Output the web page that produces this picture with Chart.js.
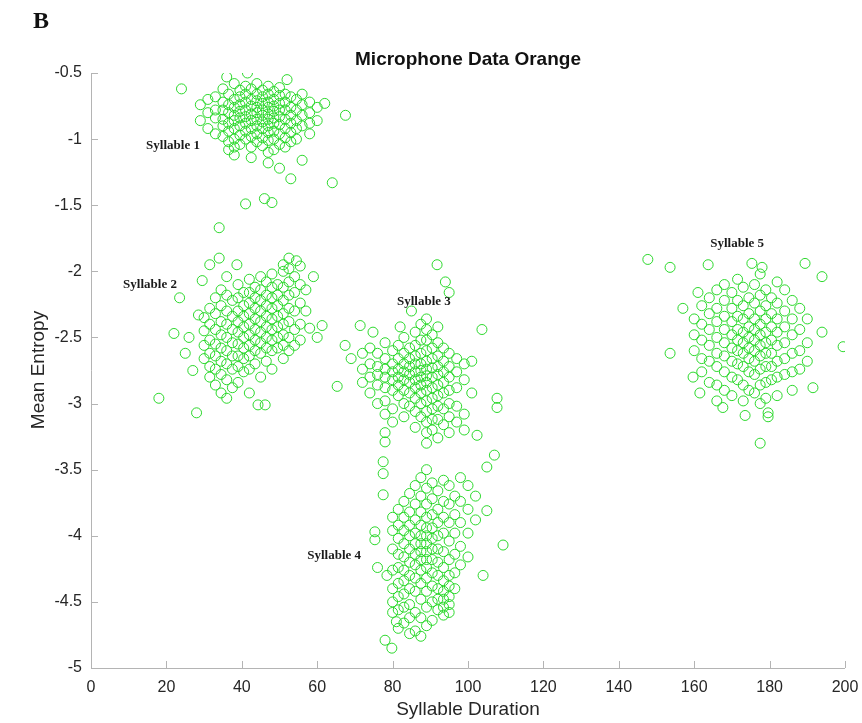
<!DOCTYPE html>
<html>
<head>
<meta charset="utf-8">
<script src="https://cdn.jsdelivr.net/npm/chart.js@4.4.1/dist/chart.umd.min.js"></script>
<style>
  html, body { margin: 0; padding: 0; background: #ffffff; }
  #wrap { width: 862px; height: 723px; position: relative; }
</style>
</head>
<body>
<div id="wrap"><canvas id="chart" width="862" height="723"></canvas></div>
<script>
// Each syllable: columns of [duration, [mean entropy values...]]
const syllable1 = [
  [24, [-0.62]],
  [29, [-0.74, -0.86]],
  [31, [-0.70, -0.80, -0.92]],
  [33, [-0.68, -0.78, -0.84, -0.96]],
  [35, [-0.62, -0.72, -0.78, -0.85, -0.90, -0.98]],
  [36, [-0.53]],
  [36.5, [-0.66, -0.74, -0.80, -0.88, -0.94, -1.02, -1.08]],
  [38, [-0.58, -0.70, -0.76, -0.82, -0.86, -0.92, -1.00, -1.06, -1.12]],
  [39.5, [-0.63, -0.68, -0.74, -0.79, -0.84, -0.90, -0.97, -1.04]],
  [41, [-0.60, -0.66, -0.72, -0.78, -0.83, -0.88, -0.94, -1.00, -1.49]],
  [41.5, [-0.50]],
  [42.5, [-0.62, -0.70, -0.75, -0.81, -0.86, -0.92, -0.98, -1.06, -1.14]],
  [44, [-0.58, -0.66, -0.71, -0.76, -0.80, -0.85, -0.90, -0.96, -1.02]],
  [45.5, [-0.63, -0.68, -0.73, -0.78, -0.82, -0.87, -0.92, -0.99, -1.05]],
  [46, [-1.45]],
  [47, [-0.60, -0.66, -0.72, -0.76, -0.81, -0.85, -0.90, -0.95, -1.01, -1.10, -1.18]],
  [48, [-1.48]],
  [48.5, [-0.64, -0.70, -0.75, -0.79, -0.84, -0.88, -0.94, -1.00, -1.08]],
  [50, [-0.61, -0.67, -0.73, -0.78, -0.83, -0.89, -0.96, -1.04, -1.22]],
  [51.5, [-0.66, -0.72, -0.78, -0.85, -0.92, -0.99, -1.06]],
  [52, [-0.55]],
  [53, [-0.68, -0.76, -0.82, -0.88, -0.95, -1.02, -1.30]],
  [54.5, [-0.70, -0.78, -0.86, -0.92, -1.00]],
  [56, [-0.66, -0.74, -0.82, -0.90, -1.16]],
  [58, [-0.72, -0.80, -0.88, -0.96]],
  [60, [-0.76, -0.86]],
  [62, [-0.73]],
  [64, [-1.33]],
  [67.5, [-0.82]]
];

const syllable2 = [
  [18, [-2.96]],
  [22, [-2.47]],
  [23.5, [-2.20]],
  [25, [-2.62]],
  [26, [-2.50]],
  [27, [-2.75]],
  [28, [-3.07]],
  [28.5, [-2.33]],
  [29.5, [-2.07]],
  [30, [-2.35, -2.45, -2.56, -2.66]],
  [31.5, [-1.95, -2.28, -2.40, -2.52, -2.62, -2.72, -2.80]],
  [33, [-2.20, -2.32, -2.44, -2.55, -2.64, -2.74, -2.86]],
  [34, [-1.67, -1.90]],
  [34.5, [-2.14, -2.26, -2.38, -2.48, -2.58, -2.68, -2.78, -2.92]],
  [36, [-2.04, -2.18, -2.30, -2.40, -2.50, -2.60, -2.70, -2.82, -2.96]],
  [37.5, [-2.22, -2.34, -2.44, -2.54, -2.64, -2.74, -2.88]],
  [38.7, [-1.95]],
  [39, [-2.10, -2.20, -2.30, -2.38, -2.46, -2.55, -2.64, -2.72, -2.84]],
  [40.5, [-2.16, -2.26, -2.34, -2.42, -2.50, -2.58, -2.66, -2.76]],
  [42, [-2.06, -2.16, -2.24, -2.32, -2.40, -2.48, -2.56, -2.64, -2.74, -2.92]],
  [43.5, [-2.12, -2.20, -2.28, -2.36, -2.44, -2.52, -2.60, -2.70]],
  [44.3, [-3.01]],
  [45, [-2.04, -2.14, -2.22, -2.30, -2.38, -2.46, -2.54, -2.62, -2.80]],
  [46.2, [-3.01]],
  [46.5, [-2.08, -2.18, -2.26, -2.34, -2.42, -2.50, -2.58, -2.68]],
  [48, [-2.02, -2.12, -2.20, -2.28, -2.36, -2.44, -2.52, -2.60, -2.74]],
  [49.5, [-2.10, -2.18, -2.26, -2.34, -2.42, -2.50, -2.58]],
  [51, [-1.95, -2.00, -2.12, -2.22, -2.32, -2.40, -2.48, -2.56, -2.66]],
  [52.5, [-1.90, -1.98, -2.08, -2.18, -2.28, -2.38, -2.50, -2.60]],
  [54, [-2.04, -2.16, -2.30, -2.44, -2.56]],
  [54.5, [-1.92]],
  [55.5, [-1.96, -2.10, -2.24, -2.40, -2.52]],
  [57, [-2.14, -2.30]],
  [58, [-2.43]],
  [59, [-2.04]],
  [60, [-2.50]],
  [61.3, [-2.41]]
];

const syllable3 = [
  [65.3, [-2.87]],
  [67.4, [-2.56]],
  [69, [-2.66]],
  [71.4, [-2.41]],
  [72, [-2.62, -2.74, -2.84]],
  [74, [-2.58, -2.70, -2.80, -2.92]],
  [74.8, [-2.46]],
  [76, [-2.62, -2.72, -2.78, -2.86, -3.00]],
  [78, [-2.54, -2.66, -2.74, -2.80, -2.88, -2.98, -3.08, -3.22, -3.29]],
  [80, [-2.60, -2.70, -2.76, -2.82, -2.90, -3.04, -3.14]],
  [81.5, [-2.56, -2.66, -2.74, -2.80, -2.86, -2.94]],
  [82, [-2.42]],
  [83, [-2.50, -2.62, -2.70, -2.76, -2.82, -2.90, -3.00, -3.10]],
  [84.5, [-2.58, -2.66, -2.72, -2.78, -2.84, -2.92, -3.02]],
  [85, [-2.30]],
  [86, [-2.46, -2.56, -2.64, -2.70, -2.76, -2.82, -2.88, -2.96, -3.06, -3.18]],
  [87.5, [-2.40, -2.52, -2.62, -2.70, -2.75, -2.80, -2.86, -2.92, -3.00, -3.10]],
  [89, [-2.36, -2.44, -2.52, -2.60, -2.68, -2.74, -2.79, -2.84, -2.90, -2.98, -3.06, -3.14, -3.22, -3.30]],
  [90.5, [-2.48, -2.58, -2.66, -2.73, -2.80, -2.88, -2.96, -3.04, -3.12, -3.20]],
  [91.8, [-1.95]],
  [92, [-2.42, -2.54, -2.64, -2.72, -2.78, -2.86, -2.94, -3.02, -3.12, -3.26]],
  [93.5, [-2.58, -2.68, -2.76, -2.84, -2.92, -3.04, -3.16]],
  [94, [-2.08]],
  [95, [-2.16, -2.62, -2.72, -2.80, -2.90, -3.00, -3.10, -3.22]],
  [97, [-2.66, -2.76, -2.88, -3.02, -3.14]],
  [99, [-2.70, -2.82, -3.08, -3.20]],
  [101, [-2.68, -2.92]],
  [102.4, [-3.24]],
  [103.7, [-2.44]],
  [107, [-3.39]],
  [107.7, [-2.96, -3.03]]
];

const syllable4 = [
  [75.3, [-3.97, -4.03]],
  [76, [-4.24]],
  [77.5, [-3.44, -3.53, -3.69]],
  [78, [-4.79]],
  [78.5, [-4.30]],
  [79.8, [-4.85]],
  [80, [-3.86, -3.96, -4.10, -4.26, -4.40, -4.50, -4.58]],
  [81, [-4.65]],
  [81.5, [-3.80, -3.92, -4.02, -4.14, -4.24, -4.36, -4.46, -4.56, -4.70]],
  [83, [-3.74, -3.86, -3.96, -4.06, -4.16, -4.26, -4.34, -4.44, -4.54, -4.66]],
  [84.5, [-3.68, -3.82, -3.92, -4.00, -4.10, -4.20, -4.30, -4.40, -4.52, -4.62, -4.74]],
  [86, [-3.62, -3.76, -3.88, -3.98, -4.06, -4.14, -4.22, -4.32, -4.42, -4.58, -4.72]],
  [87.5, [-3.56, -3.70, -3.82, -3.92, -4.00, -4.06, -4.12, -4.18, -4.26, -4.36, -4.48, -4.62, -4.76]],
  [89, [-3.50, -3.64, -3.76, -3.86, -3.94, -4.00, -4.06, -4.12, -4.18, -4.24, -4.32, -4.42, -4.54, -4.68]],
  [90.5, [-3.60, -3.72, -3.84, -3.94, -4.02, -4.10, -4.18, -4.28, -4.38, -4.50, -4.64]],
  [92, [-3.66, -3.80, -3.90, -4.00, -4.10, -4.20, -4.30, -4.40, -4.48, -4.56]],
  [93.5, [-3.58, -3.74, -3.86, -3.98, -4.12, -4.24, -4.34, -4.42, -4.48, -4.54, -4.60]],
  [95, [-3.62, -3.76, -3.90, -4.04, -4.18, -4.30, -4.38, -4.46, -4.52, -4.58]],
  [96.5, [-3.70, -3.84, -3.98, -4.14, -4.28, -4.40]],
  [98, [-3.56, -3.74, -3.90, -4.08, -4.22]],
  [100, [-3.62, -3.80, -3.98, -4.16]],
  [102, [-3.70, -3.88]],
  [104, [-4.30]],
  [105, [-3.48, -3.81]],
  [109.3, [-4.07]]
];

const syllable5 = [
  [147.7, [-1.91]],
  [153.6, [-1.97, -2.62]],
  [157, [-2.28]],
  [159.7, [-2.80]],
  [160, [-2.36, -2.48, -2.60]],
  [161, [-2.16]],
  [161.5, [-2.92]],
  [162, [-2.26, -2.40, -2.52, -2.66, -2.76]],
  [163.7, [-1.95]],
  [164, [-2.20, -2.32, -2.44, -2.56, -2.68, -2.84]],
  [166, [-2.14, -2.28, -2.38, -2.50, -2.62, -2.72, -2.86, -2.98]],
  [167.6, [-3.03]],
  [168, [-2.10, -2.22, -2.34, -2.44, -2.54, -2.64, -2.76, -2.90]],
  [170, [-2.16, -2.28, -2.38, -2.48, -2.58, -2.68, -2.80, -2.94]],
  [171.5, [-2.06, -2.22, -2.34, -2.44, -2.52, -2.60, -2.70, -2.82]],
  [173, [-2.12, -2.26, -2.36, -2.46, -2.54, -2.62, -2.72, -2.86, -2.98]],
  [173.5, [-3.09]],
  [174.5, [-2.20, -2.32, -2.42, -2.50, -2.58, -2.66, -2.76, -2.90]],
  [175.3, [-1.94]],
  [176, [-2.10, -2.24, -2.36, -2.44, -2.52, -2.60, -2.68, -2.78, -2.92]],
  [177.5, [-2.02, -2.18, -2.30, -2.40, -2.48, -2.56, -2.64, -2.74, -2.86, -3.00, -3.30]],
  [178, [-1.97]],
  [179, [-2.14, -2.26, -2.36, -2.46, -2.54, -2.62, -2.72, -2.84, -2.96]],
  [179.6, [-3.07, -3.10]],
  [180.5, [-2.20, -2.32, -2.42, -2.52, -2.62, -2.72, -2.82]],
  [182, [-2.08, -2.24, -2.36, -2.46, -2.56, -2.68, -2.80, -2.94]],
  [184, [-2.14, -2.30, -2.42, -2.54, -2.66, -2.78]],
  [186, [-2.22, -2.36, -2.48, -2.62, -2.76, -2.90]],
  [188, [-2.28, -2.44, -2.60, -2.74]],
  [189.4, [-1.94]],
  [190, [-2.36, -2.54, -2.68]],
  [191.5, [-2.88]],
  [193.9, [-2.04, -2.46]],
  [199.5, [-2.57]]
];

// Cluster captions and where they sit, in data units
const labelTexts = ['Syllable 1', 'Syllable 2', 'Syllable 3', 'Syllable 4', 'Syllable 5'];
const labelX = [21.75, 15.65, 88.3, 64.5, 171.4];
const labelY = [-1.05, -2.10, -2.23, -4.15, -1.79];

const xTicks = [0, 20, 40, 60, 80, 100, 120, 140, 160, 180, 200];
const yTicks = [-5, -4.5, -4, -3.5, -3, -2.5, -2, -1.5, -1, -0.5];

const chartTitle = 'Microphone Data Orange';
const panelLetter = 'B';
const xTitle = 'Syllable Duration';
const yTitle = 'Mean Entropy';

function expand(cols) {
  return cols.flatMap(([x, ys]) => ys.map(y => ({ x, y })));
}

const points = [syllable1, syllable2, syllable3, syllable4, syllable5].flatMap(expand);

const AXIS_COLOR = '#b4b4b4';
const TEXT_COLOR = '#262626';
const SANS = '"Liberation Sans", Arial, Helvetica, sans-serif';
const SERIF = '"Liberation Serif", "Times New Roman", serif';

// Axis lines with inward ticks, plus title, panel letter and cluster captions
const decorations = {
  id: 'decorations',
  beforeDatasetsDraw(chart) {
    const { ctx, chartArea: a, scales: { x, y } } = chart;
    ctx.save();
    ctx.strokeStyle = AXIS_COLOR;
    ctx.lineWidth = 1;
    ctx.beginPath();
    ctx.moveTo(a.left + 0.5, a.top);
    ctx.lineTo(a.left + 0.5, a.bottom + 0.5);
    ctx.lineTo(a.right, a.bottom + 0.5);
    x.ticks.forEach(t => {
      const px = Math.round(x.getPixelForValue(t.value)) + 0.5;
      ctx.moveTo(px, a.bottom);
      ctx.lineTo(px, a.bottom - 7);
    });
    y.ticks.forEach(t => {
      const py = Math.round(y.getPixelForValue(t.value)) + 0.5;
      ctx.moveTo(a.left, py);
      ctx.lineTo(a.left + 7, py);
    });
    ctx.stroke();
    ctx.restore();
  },
  afterDraw(chart) {
    const { ctx, chartArea: a, scales: { x, y } } = chart;
    ctx.save();
    ctx.fillStyle = '#111111';
    ctx.textBaseline = 'middle';
    ctx.textAlign = 'center';
    ctx.font = 'bold 19px ' + SANS;
    ctx.fillText(chartTitle, (a.left + a.right) / 2, 60);

    ctx.textAlign = 'left';
    ctx.font = 'bold 24px ' + SERIF;
    ctx.fillText(panelLetter, 33, 22);

    ctx.textAlign = 'center';
    ctx.fillStyle = TEXT_COLOR;
    ctx.font = '19px ' + SANS;
    ctx.fillText(xTitle, (a.left + a.right) / 2, 710);
    ctx.save();
    ctx.translate(39, 370);
    ctx.rotate(-Math.PI / 2);
    ctx.fillText(yTitle, 0, 0);
    ctx.restore();

    ctx.fillStyle = '#1a1a1a';
    ctx.font = 'bold 13px ' + SERIF;
    labelTexts.forEach((txt, i) => {
      ctx.fillText(txt, x.getPixelForValue(labelX[i]), y.getPixelForValue(labelY[i]));
    });
    ctx.restore();
  }
};

new Chart(document.getElementById('chart'), {
  type: 'scatter',
  data: {
    datasets: [{
      label: chartTitle,
      data: points,
      pointStyle: 'circle',
      pointRadius: 5,
      pointHoverRadius: 5,
      pointBorderWidth: 1,
      pointBackgroundColor: 'rgba(0,0,0,0)',
      pointBorderColor: 'rgba(34, 214, 34, 0.95)'
    }]
  },
  options: {
    responsive: false,
    animation: false,
    layout: { padding: { left: 0, right: 17, top: 73, bottom: 0 } },
    plugins: {
      legend: { display: false },
      title: { display: false },
      tooltip: { enabled: false }
    },
    scales: {
      x: {
        type: 'linear',
        min: 0,
        max: 200,
        afterBuildTicks(scale) { scale.ticks = xTicks.map(v => ({ value: v })); },
        afterFit(scale) {
          scale.height = 55;
          scale.paddingLeft = 0;
          scale.paddingRight = 0;
        },
        grid: { display: false, drawTicks: false },
        border: { display: false },
        ticks: {
          padding: 10,
          color: TEXT_COLOR,
          font: { family: SANS, size: 16 },
          maxRotation: 0,
          callback: v => String(v)
        }
      },
      y: {
        type: 'linear',
        min: -5,
        max: -0.5,
        afterBuildTicks(scale) { scale.ticks = yTicks.map(v => ({ value: v })); },
        afterFit(scale) {
          scale.width = 91;
          scale.paddingTop = 0;
          scale.paddingBottom = 0;
        },
        grid: { display: false, drawTicks: false },
        border: { display: false },
        ticks: {
          padding: 9,
          color: TEXT_COLOR,
          font: { family: SANS, size: 16 },
          callback: v => String(v)
        }
      }
    }
  },
  plugins: [decorations]
});
</script>
</body>
</html>
